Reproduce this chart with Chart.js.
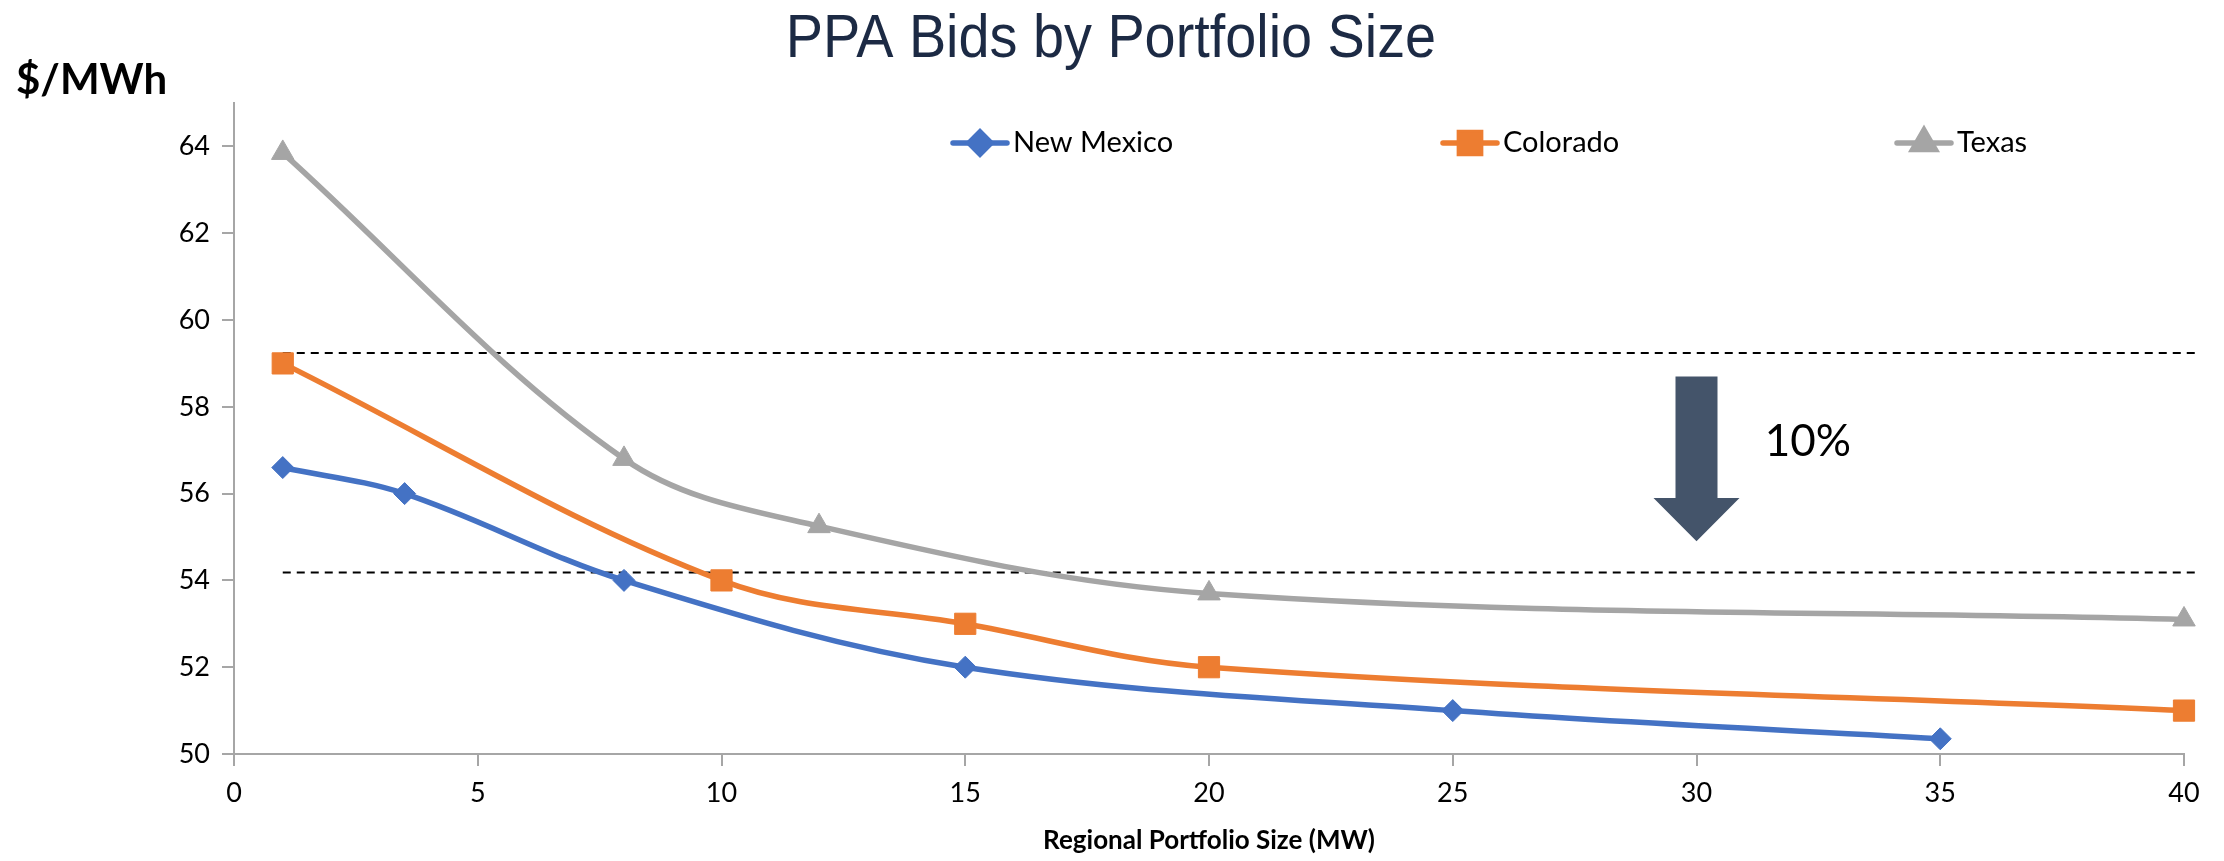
<!DOCTYPE html>
<html>
<head>
<meta charset="utf-8">
<script src="https://cdn.jsdelivr.net/npm/chart.js@4/dist/chart.umd.min.js"></script>
<style>
  html, body { margin: 0; background: #ffffff; }
  #wrap { width: 2224px; height: 861px; position: relative; }
</style>
</head>
<body>
<div id="wrap"><canvas id="chart"></canvas></div>
<script>
'use strict';

// ─── Data ────────────────────────────────────────────────────────────────────

const NM_X = [1, 3.5, 8, 15, 25, 35];
const NM_Y = [56.6, 56.0, 54.0, 52.0, 51.0, 50.35];

const CO_X = [1, 10, 15, 20, 40];
const CO_Y = [59.0, 54.0, 53.0, 52.0, 51.0];

const TX_X = [1, 8, 12, 20, 40];
const TX_Y = [63.85, 56.8, 55.25, 53.7, 53.1];

// dashed reference levels (the 10 % band)
const REF_X    = [1, 40.3];
const REF_HIGH = [59.24, 59.24];
const REF_LOW  = [54.18, 54.18];

// down arrow: x, then shaft top / head base / tip in $/MWh
const ARROW_X = 30;
const ARROW_Y = [58.7, 55.9, 54.9];
const ARROW_LABEL = '10%';
const ARROW_LABEL_POS = [31.4, 57.2];

const SERIES_NAMES = ['New Mexico', 'Colorado', 'Texas'];
const TITLE   = 'PPA Bids by Portfolio Size';
const Y_TITLE = '$/MWh';
const X_TITLE = 'Regional Portfolio Size (MW)';

const X_MIN = 0, X_MAX = 40, X_STEP = 5;
const Y_MIN = 50, Y_MAX = 65, Y_STEP = 2;

// ─── Styles ──────────────────────────────────────────────────────────────────

const BLUE   = '#4472C4';
const ORANGE = '#ED7D31';
const GRAY   = '#A5A5A5';
const AXIS   = '#A6A6A6';
const FONT   = 'Lato, "Noto Sans", sans-serif';

const zip = (xs, ys) => xs.map((x, i) => ({ x: x, y: ys[i] }));

function series(label, xs, ys, color, style, radius) {
  return {
    label: label,
    data: zip(xs, ys),
    borderColor: color,
    backgroundColor: color,
    borderWidth: 5.5,
    pointStyle: style,
    pointRadius: radius,
    pointBorderWidth: 1,
    pointBorderColor: color,
    pointBackgroundColor: color,
    tension: 0.35,
    clip: false,
  };
}

function refLine(ys) {
  return {
    label: '_ref',
    data: zip(REF_X, ys),
    borderColor: '#000000',
    borderWidth: 2,
    borderDash: [8, 6],
    pointRadius: 0,
    tension: 0,
    clip: false,
  };
}

// ─── Overlay: title, axis caption, legend, arrow ─────────────────────────────

const overlay = {
  id: 'overlay',
  afterDraw(chart) {
    const ctx = chart.ctx;
    const xs = chart.scales.x, ys = chart.scales.y;
    ctx.save();

    // title (condensed look)
    ctx.save();
    ctx.translate(1111, 40);
    ctx.scale(0.9, 1);
    ctx.fillStyle = '#1C2A44';
    ctx.font = '62px "Liberation Sans", Arial, sans-serif';
    ctx.textAlign = 'center';
    ctx.textBaseline = 'middle';
    ctx.fillText(TITLE, 0, 0);
    ctx.restore();

    // y caption
    ctx.fillStyle = '#000000';
    ctx.font = 'bold 42px ' + FONT;
    ctx.textAlign = 'left';
    ctx.textBaseline = 'middle';
    ctx.fillText(Y_TITLE, 16, 80);

    // legend
    const legendX = [953, 1443, 1897];
    const legendY = 143;
    chart.data.datasets.slice(0, 3).forEach((ds, i) => {
      const x0 = legendX[i], x1 = x0 + 54;
      ctx.strokeStyle = ds.borderColor;
      ctx.lineWidth = 5.5;
      ctx.lineCap = 'round';
      ctx.beginPath();
      ctx.moveTo(x0, legendY);
      ctx.lineTo(x1, legendY);
      ctx.stroke();
      ctx.fillStyle = ds.borderColor;
      Chart.helpers.drawPoint(ctx, {
        pointStyle: ds.pointStyle, radius: ds.pointRadius, borderWidth: 1, rotation: 0,
      }, (x0 + x1) / 2, legendY);
      ctx.fill();
      ctx.fillStyle = '#000000';
      ctx.font = '29px ' + FONT;
      ctx.textAlign = 'left';
      ctx.textBaseline = 'middle';
      ctx.fillText(SERIES_NAMES[i], x1 + 6, legendY);
    });

    // 10 % arrow
    const ax = xs.getPixelForValue(ARROW_X);
    const yTop = ys.getPixelForValue(ARROW_Y[0]);
    const yBase = ys.getPixelForValue(ARROW_Y[1]);
    const yTip = ys.getPixelForValue(ARROW_Y[2]);
    const shaft = 21, head = 43;
    ctx.fillStyle = '#44546A';
    ctx.beginPath();
    ctx.moveTo(ax - shaft, yTop);
    ctx.lineTo(ax + shaft, yTop);
    ctx.lineTo(ax + shaft, yBase);
    ctx.lineTo(ax + head, yBase);
    ctx.lineTo(ax, yTip);
    ctx.lineTo(ax - head, yBase);
    ctx.lineTo(ax - shaft, yBase);
    ctx.closePath();
    ctx.fill();

    ctx.fillStyle = '#000000';
    ctx.font = '44px ' + FONT;
    ctx.textAlign = 'left';
    ctx.textBaseline = 'middle';
    ctx.fillText(ARROW_LABEL, xs.getPixelForValue(ARROW_LABEL_POS[0]),
                 ys.getPixelForValue(ARROW_LABEL_POS[1]));

    ctx.restore();
  },
};

// ─── Chart ───────────────────────────────────────────────────────────────────

new Chart(document.getElementById('chart'), {
  type: 'line',
  data: {
    datasets: [
      series(SERIES_NAMES[0], NM_X, NM_Y, BLUE, 'rectRot', 11),
      series(SERIES_NAMES[1], CO_X, CO_Y, ORANGE, 'rect', 15),
      series(SERIES_NAMES[2], TX_X, TX_Y, GRAY, 'triangle', 13),
      refLine(REF_HIGH),
      refLine(REF_LOW),
    ],
  },
  options: {
    responsive: true,
    maintainAspectRatio: false,
    animation: false,
    layout: { padding: { left: 0, right: 40, top: 103, bottom: 0 } },
    plugins: {
      legend: { display: false },
      title: { display: false },
      tooltip: { enabled: false },
    },
    scales: {
      x: {
        type: 'linear',
        min: X_MIN,
        max: X_MAX,
        ticks: { stepSize: X_STEP, color: '#000000', font: { family: FONT, size: 27 }, padding: 11 },
        grid: { display: true, drawOnChartArea: false, color: AXIS, tickLength: 12, lineWidth: 2 },
        border: { color: AXIS, width: 2 },
        title: {
          display: true,
          text: X_TITLE,
          color: '#000000',
          font: { family: FONT, size: 26, weight: 'bold' },
          padding: { top: 0, bottom: 5 },
        },
        afterFit: s => { s.height = 107; },
      },
      y: {
        min: Y_MIN,
        max: Y_MAX,
        ticks: { stepSize: Y_STEP, color: '#000000', font: { family: FONT, size: 27 }, padding: 12 },
        afterBuildTicks: s => { s.ticks = s.ticks.filter(t => t.value % Y_STEP === 0); },
        grid: { display: true, drawOnChartArea: false, color: AXIS, tickLength: 12, lineWidth: 2 },
        border: { color: AXIS, width: 2 },
        afterFit: s => { s.width = 234; },
      },
    },
  },
  plugins: [overlay],
});
</script>
</body>
</html>
